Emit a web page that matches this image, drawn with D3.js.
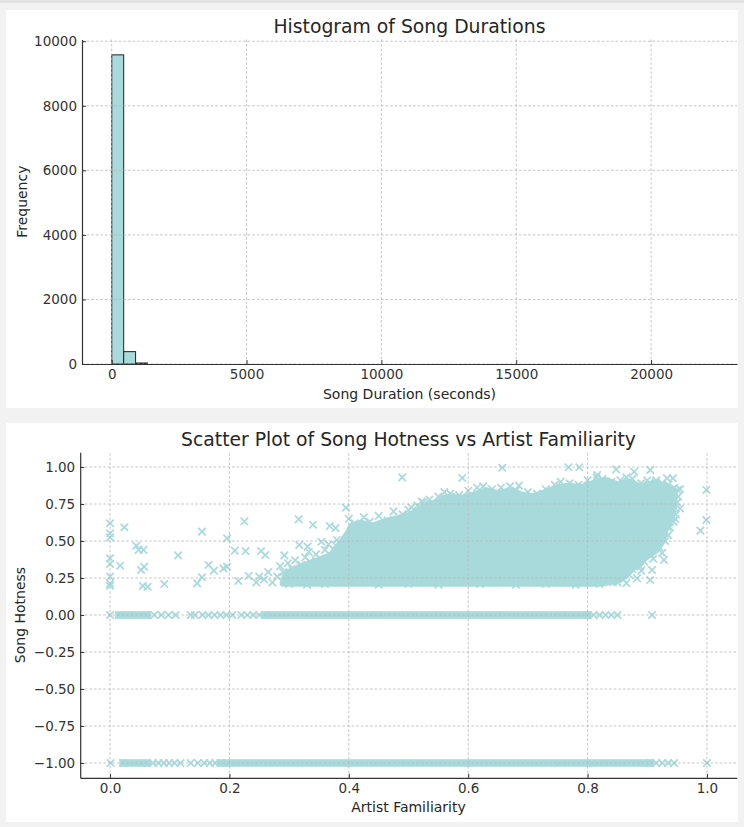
<!DOCTYPE html>
<html>
<head>
<meta charset="utf-8">
<script src="https://cdn.jsdelivr.net/npm/d3@7"></script>
<style>
    body { margin: 0; background: #f2f2f2; }
    svg { display: block; font-family: "DejaVu Sans", sans-serif; }
</style>
</head>
<body>
<svg id="chart" width="744" height="827"></svg>
<script>
// ---- histogram data
const durationMin = 3
const durationMax = 22081
const durationCounts = [
    9578, 383, 31, 5, 1, 1, 0, 0, 0, 0,
    0, 0, 0, 0, 0, 0, 0, 0, 0, 0,
    0, 0, 0, 0, 0, 0, 0, 0, 0, 0,
    0, 0, 0, 0, 0, 0, 0, 0, 0, 0,
    0, 0, 0, 0, 0, 0, 0, 0, 0, 1
]
const durationTicks = [0, 5000, 10000, 15000, 20000]
const frequencyTicks = [0, 2000, 4000, 6000, 8000, 10000]

// ---- scatter data
const familiarityTicks = [0, 0.2, 0.4, 0.6, 0.8, 1.0]
const hotnessTicks = [-1, -0.75, -0.5, -0.25, 0, 0.25, 0.5, 0.75, 1]

// outline of the dense cloud (familiarity, hotness)
const cloudOutline = [
    [0.29, 0.215], [0.295, 0.28], [0.31, 0.31], [0.33, 0.34], [0.35, 0.37], [0.37, 0.40],
    [0.38, 0.45], [0.39, 0.50], [0.40, 0.56], [0.405, 0.60],
    [0.42, 0.62], [0.44, 0.60], [0.46, 0.63], [0.48, 0.65], [0.50, 0.67], [0.515, 0.70],
    [0.53, 0.74], [0.545, 0.76], [0.56, 0.79], [0.575, 0.80], [0.59, 0.79], [0.61, 0.81],
    [0.63, 0.84], [0.65, 0.82], [0.67, 0.84], [0.69, 0.81], [0.71, 0.80], [0.73, 0.83],
    [0.75, 0.86], [0.77, 0.87], [0.79, 0.86], [0.81, 0.89], [0.83, 0.91], [0.85, 0.88],
    [0.87, 0.90], [0.89, 0.86], [0.91, 0.89], [0.93, 0.87], [0.945, 0.83], [0.945, 0.74],
    [0.94, 0.66], [0.93, 0.58], [0.925, 0.50], [0.915, 0.44], [0.90, 0.40], [0.885, 0.35],
    [0.87, 0.30], [0.86, 0.26], [0.845, 0.23], [0.82, 0.215], [0.60, 0.215], [0.40, 0.215]
]

// ragged edge of the cloud
const cloudFringe = [
    [0.245, 0.22], [0.25, 0.26], [0.258, 0.24], [0.265, 0.29], [0.272, 0.22], [0.28, 0.26],
    [0.285, 0.33], [0.29, 0.29], [0.298, 0.35], [0.305, 0.31], [0.31, 0.37], [0.32, 0.34],
    [0.327, 0.39], [0.335, 0.36], [0.345, 0.41], [0.352, 0.38], [0.36, 0.44], [0.37, 0.40],
    [0.378, 0.47],
    [0.40, 0.65], [0.41, 0.62], [0.425, 0.66], [0.435, 0.63], [0.45, 0.67], [0.465, 0.64],
    [0.475, 0.70], [0.49, 0.68], [0.50, 0.71], [0.515, 0.74], [0.525, 0.76], [0.535, 0.78],
    [0.55, 0.80], [0.56, 0.83], [0.57, 0.82], [0.585, 0.81], [0.60, 0.84], [0.615, 0.86],
    [0.625, 0.87], [0.64, 0.85], [0.655, 0.86], [0.67, 0.87], [0.68, 0.84], [0.70, 0.83],
    [0.715, 0.82], [0.73, 0.85], [0.745, 0.88], [0.755, 0.90], [0.77, 0.89], [0.785, 0.88],
    [0.80, 0.91], [0.815, 0.93], [0.825, 0.92], [0.84, 0.90], [0.855, 0.91], [0.865, 0.93],
    [0.875, 0.92], [0.89, 0.89], [0.90, 0.91], [0.915, 0.91], [0.925, 0.89], [0.935, 0.88],
    [0.945, 0.86], [0.955, 0.85],
    [0.952, 0.80], [0.95, 0.76], [0.955, 0.72], [0.948, 0.68], [0.944, 0.63], [0.938, 0.59],
    [0.935, 0.54], [0.93, 0.50], [0.92, 0.46], [0.925, 0.42], [0.905, 0.41], [0.91, 0.38],
    [0.895, 0.36], [0.89, 0.30], [0.875, 0.31], [0.87, 0.27], [0.86, 0.24], [0.85, 0.22],
    [0.865, 0.215],
    [0.30, 0.21], [0.33, 0.205], [0.36, 0.21], [0.45, 0.205], [0.50, 0.21], [0.55, 0.205],
    [0.62, 0.21], [0.68, 0.205], [0.73, 0.21], [0.78, 0.205], [0.82, 0.21]
]

// scattered points outside the cloud
const scatterPoints = [
    [0.0, 0.62], [0.0, 0.552], [0.0, 0.525], [0.024, 0.593], [0.044, 0.468], [0.048, 0.44],
    [0.056, 0.44], [0.0, 0.383], [0.0, 0.345], [0.017, 0.333], [0.052, 0.304], [0.057, 0.326],
    [0.0, 0.259], [0.0, 0.214], [0.0, 0.198], [0.055, 0.196], [0.063, 0.191], [0.091, 0.209],
    [0.114, 0.403], [0.146, 0.214], [0.154, 0.255], [0.154, 0.563], [0.165, 0.338], [0.174, 0.30],
    [0.19, 0.315], [0.196, 0.326], [0.196, 0.518], [0.209, 0.435], [0.225, 0.633], [0.215, 0.23],
    [0.227, 0.432], [0.232, 0.264], [0.253, 0.432], [0.26, 0.405], [0.292, 0.403], [0.316, 0.647],
    [0.317, 0.473], [0.331, 0.462], [0.333, 0.426], [0.34, 0.61], [0.354, 0.495], [0.366, 0.477],
    [0.368, 0.601], [0.378, 0.588], [0.38, 0.507],
    [0.395, 0.725], [0.4895, 0.93], [0.505, 0.727], [0.522, 0.766], [0.59, 0.926], [0.657, 0.995],
    [0.685, 0.874], [0.768, 0.998], [0.786, 0.998],
    [0.816, 0.946], [0.848, 0.984], [0.878, 0.968], [0.905, 0.98], [0.914, 0.897], [0.933, 0.924],
    [0.943, 0.924], [0.951, 0.845], [0.999, 0.845], [0.999, 0.642], [0.989, 0.57], [0.947, 0.649],
    [0.934, 0.597], [0.928, 0.372], [0.888, 0.326], [0.908, 0.304], [0.905, 0.236], [0.883, 0.248],
    [0.843, 0.225]
]

// songs with hotness 0 and -1 (dense runs + single marks)
const zeroRuns = [[0.015, 0.062], [0.26, 0.80]]
const zeroSingles = [0.0, 0.074, 0.086, 0.098, 0.11, 0.135, 0.142, 0.155, 0.165, 0.175, 0.185,
    0.195, 0.205, 0.22, 0.23, 0.24, 0.25, 0.81, 0.82, 0.83, 0.84, 0.85, 0.908]
const minusOneRuns = [[0.022, 0.062], [0.185, 0.905]]
const minusOneSingles = [0.001, 0.072, 0.081, 0.09, 0.099, 0.108, 0.118, 0.135, 0.147, 0.158,
    0.167, 0.176, 0.915, 0.925, 0.935, 0.945, 1.0]

const teal = "#a8dadc"
const ink = "#333"
const xMark = "M-3.7,-3.7L3.7,3.7M-3.7,3.7L3.7,-3.7"

const svg = d3.select("#chart")

// white panels
svg.append("rect").attr("x", 0).attr("y", 0).attr("width", 744).attr("height", 3).attr("fill", "#e2e2e2")
svg.append("rect").attr("x", 6).attr("y", 10).attr("width", 732).attr("height", 398).attr("fill", "white")
svg.append("rect").attr("x", 6).attr("y", 423).attr("width", 732).attr("height", 399).attr("fill", "white")

const drawGrid = (g, x, y, xTicks, yTicks) => {
    const [x0, x1] = x.range()
    const [y0, y1] = y.range()
    const grid = g.append("g")
        .attr("stroke", "#b8b8b8")
        .attr("stroke-width", 0.8)
        .attr("stroke-dasharray", "2.6,2")
    grid.selectAll(".vgrid").data(xTicks).join("line")
        .attr("x1", d => x(d)).attr("x2", d => x(d))
        .attr("y1", y0).attr("y2", y1)
    grid.selectAll(".hgrid").data(yTicks).join("line")
        .attr("x1", x0).attr("x2", x1)
        .attr("y1", d => y(d)).attr("y2", d => y(d))
}

const drawAxes = (g, x, y, xTicks, yTicks, xFormat, yFormat) => {
    const bottom = y.range()[0]
    const left = x.range()[0]

    const xAxis = g.append("g")
        .attr("transform", `translate(0,${bottom})`)
        .call(d3.axisBottom(x).tickValues(xTicks).tickFormat(xFormat)
            .tickSize(-4).tickSizeOuter(0).tickPadding(5.5))
    const yAxis = g.append("g")
        .attr("transform", `translate(${left},0)`)
        .call(d3.axisLeft(y).tickValues(yTicks).tickFormat(yFormat)
            .tickSize(-4).tickSizeOuter(0).tickPadding(5))

    ;[xAxis, yAxis].forEach(a => {
        a.attr("font-family", "DejaVu Sans, sans-serif").attr("font-size", 13.5)
        a.selectAll("text").attr("fill", ink)
        a.selectAll("line").attr("stroke", ink).attr("stroke-width", 1)
        a.select(".domain").attr("stroke", ink).attr("stroke-width", 1.2)
    })
}

const addLabels = (g, title, titleY, xLabel, xLabelY, yLabel, yLabelX, x, y) => {
    const cx = (x.range()[0] + x.range()[1]) / 2
    const cy = (y.range()[0] + y.range()[1]) / 2
    g.append("text")
        .attr("x", cx).attr("y", titleY)
        .attr("text-anchor", "middle")
        .attr("font-size", 18.8)
        .attr("fill", "#262626")
        .text(title)
    g.append("text")
        .attr("x", cx).attr("y", xLabelY)
        .attr("text-anchor", "middle")
        .attr("font-size", 14)
        .attr("fill", "#262626")
        .text(xLabel)
    g.append("text")
        .attr("transform", `translate(${yLabelX},${cy}) rotate(-90)`)
        .attr("text-anchor", "middle")
        .attr("font-size", 14)
        .attr("fill", "#262626")
        .text(yLabel)
}

// ---------------- histogram
const hist = svg.append("g").attr("class", "histogram")

const hx = d3.scaleLinear()
    .domain([durationMin - 0.05 * (durationMax - durationMin), durationMax + 0.05 * (durationMax - durationMin)])
    .range([82, 737])
const hy = d3.scaleLinear()
    .domain([0, d3.max(durationCounts) * 1.05])
    .range([364, 39.4])

const binWidth = (durationMax - durationMin) / durationCounts.length

hist.selectAll(".bar")
    .data(durationCounts)
    .join("rect")
    .attr("class", "bar")
    .attr("x", (d, i) => hx(durationMin + i * binWidth))
    .attr("width", (d, i) => hx(durationMin + (i + 1) * binWidth) - hx(durationMin + i * binWidth))
    .attr("y", d => hy(d))
    .attr("height", d => hy(0) - hy(d))
    .attr("fill", teal)
    // bars thinner than half a pixel vanish into the spine
    .attr("stroke", d => hy(0) - hy(d) >= 0.5 ? "#222" : "none")
    .attr("stroke-width", 1)

drawGrid(hist, hx, hy, durationTicks, frequencyTicks)
drawAxes(hist, hx, hy, durationTicks, frequencyTicks, d3.format("d"), d3.format("d"))
addLabels(hist, "Histogram of Song Durations", 32.5, "Song Duration (seconds)", 399, "Frequency", 27, hx, hy)

// ---------------- scatter
const scat = svg.append("g").attr("class", "scatter")

const sx = d3.scaleLinear().domain([-0.05, 1.05]).range([80.2, 736.8])
const sy = d3.scaleLinear().domain([-1.1, 1.1]).range([777.8, 452.2])

const cloudLine = d3.line()
    .x(d => sx(d[0]))
    .y(d => sy(d[1]))
    .curve(d3.curveLinearClosed)

scat.append("path")
    .attr("d", cloudLine(cloudOutline))
    .attr("fill", teal)
    .attr("stroke", teal)
    .attr("stroke-width", 7)
    .attr("stroke-linejoin", "round")

const drawRuns = (runs, level) => {
    scat.selectAll(null)
        .data(runs)
        .join("rect")
        .attr("x", d => sx(d[0]) - 3.7)
        .attr("width", d => sx(d[1]) - sx(d[0]) + 7.4)
        .attr("y", sy(level) - 3.8)
        .attr("height", 7.6)
        .attr("fill", teal)
}
drawRuns(zeroRuns, 0)
drawRuns(minusOneRuns, -1)

const markPoints = [
    ...scatterPoints,
    ...cloudFringe,
    ...zeroSingles.map(v => [v, 0]),
    ...minusOneSingles.map(v => [v, -1]),
    ...zeroRuns.flat().map(v => [v, 0]),
    ...minusOneRuns.flat().map(v => [v, -1])
]

scat.selectAll(".mark")
    .data(markPoints)
    .join("path")
    .attr("class", "mark")
    .attr("d", xMark)
    .attr("transform", d => `translate(${sx(d[0])},${sy(d[1])})`)
    .attr("fill", "none")
    .attr("stroke", teal)
    .attr("stroke-width", 1.7)

drawGrid(scat, sx, sy, familiarityTicks, hotnessTicks)
drawAxes(scat, sx, sy, familiarityTicks, hotnessTicks, d3.format(".1f"), d3.format(".2f"))
addLabels(scat, "Scatter Plot of Song Hotness vs Artist Familiarity", 445.5, "Artist Familiarity", 812, "Song Hotness", 25, sx, sy)
</script>
</body>
</html>
